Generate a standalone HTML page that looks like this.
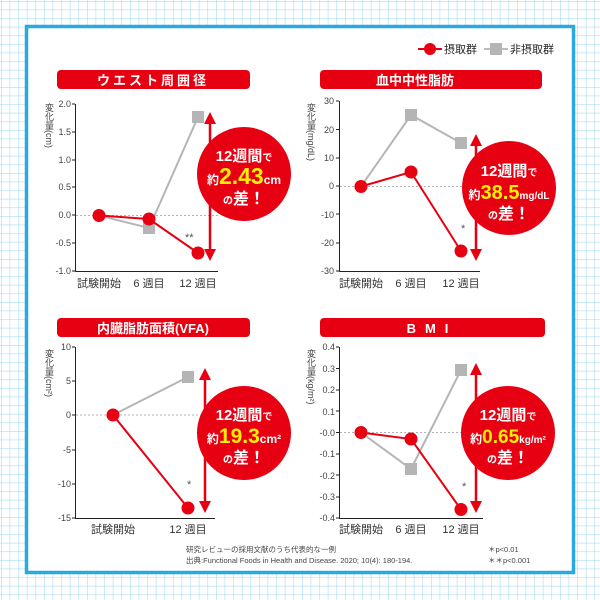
<!DOCTYPE html>
<html><head><meta charset="utf-8"><style>
html,body{margin:0;padding:0;width:600px;height:600px;overflow:hidden;background:#fff}
svg{display:block}
text{font-family:"Liberation Sans","Noto Sans CJK JP",sans-serif}
.v{writing-mode:vertical-rl}
</style></head><body>
<svg width="600" height="600" viewBox="0 0 600 600" xmlns="http://www.w3.org/2000/svg">
<defs>
<pattern id="g" x="1" y="1" width="8.6" height="8.6" patternUnits="userSpaceOnUse">
<path d="M0 0H8.6M0 0V8.6" stroke="#a9dcf3" stroke-width="1.2" fill="none"/>
</pattern>
</defs>
<rect width="600" height="600" fill="#fff"/>
<rect width="600" height="600" fill="url(#g)"/>
<rect x="26.5" y="26.5" width="547" height="546" fill="#fff" stroke="#2aa8e0" stroke-width="3.5"/>

<!-- legend -->
<line x1="418" y1="49" x2="442" y2="49" stroke="#e60012" stroke-width="2"/>
<circle cx="430" cy="49" r="6" fill="#e60012"/>
<text x="444" y="53" font-size="11" fill="#222">摂取群</text>
<line x1="484" y1="49" x2="508" y2="49" stroke="#bbb" stroke-width="2"/>
<rect x="490" y="43" width="12" height="12" fill="#b5b5b5"/>
<text x="510" y="53" font-size="11" fill="#222">非摂取群</text>

<!-- ============ Chart 1 ============ -->
<rect x="57" y="70" width="193" height="19" rx="4" fill="#e60012"/>
<text x="153" y="85" font-size="13" font-weight="bold" fill="#fff" text-anchor="middle" letter-spacing="3">ウエスト周囲径</text>
<text x="49" y="103" font-size="9" fill="#444" class="v">変化量(cm)</text>
<g font-size="9" fill="#444" text-anchor="end">
<text x="71" y="107">2.0</text><text x="71" y="135">1.5</text><text x="71" y="163">1.0</text><text x="71" y="190">0.5</text><text x="71" y="218">0.0</text><text x="71" y="246">-0.5</text><text x="71" y="274">-1.0</text>
</g>
<g stroke="#222" stroke-width="1" fill="none">
<path d="M75.5 104V271.5H218"/>
<path d="M75 104h-3M75 132h-3M75 160h-3M75 187h-3M75 215h-3M75 243h-3M75 271h-3"/>
</g>
<line x1="76" y1="215.5" x2="218" y2="215.5" stroke="#999" stroke-dasharray="2,2" stroke-width="0.8"/>
<polyline points="99,215.5 149,228 198,117" fill="none" stroke="#b5b5b5" stroke-width="2"/>
<rect x="143" y="222" width="12" height="12" fill="#b5b5b5"/><rect x="192" y="111" width="12" height="12" fill="#b5b5b5"/>
<polyline points="99,215.5 149,219 198,253" fill="none" stroke="#e60012" stroke-width="2"/>
<circle cx="99" cy="215.5" r="6.5" fill="#e60012"/><circle cx="149" cy="219" r="6.5" fill="#e60012"/><circle cx="198" cy="253" r="6.5" fill="#e60012"/>
<text x="185" y="241" font-size="11" fill="#555">**</text>
<g font-size="11" fill="#333" text-anchor="middle"><text x="99" y="287">試験開始</text><text x="149" y="287">6 週目</text><text x="198" y="287">12 週目</text></g>
<line x1="210" y1="122" x2="210" y2="251" stroke="#e60012" stroke-width="2.5"/>
<path d="M204 124L210 112L216 124Z M204 249L210 261L216 249Z" fill="#e60012"/>
<circle cx="244" cy="174" r="47" fill="#e60012"/>
<text x="244" y="161" font-size="15" font-weight="bold" fill="#fff" text-anchor="middle">12週間<tspan font-size="10">で</tspan></text>
<text x="244" y="184" font-weight="bold" text-anchor="middle" fill="#fff" font-size="12">約<tspan fill="#fff000" font-size="23">2.43</tspan><tspan font-size="12">cm</tspan></text>
<text x="244" y="204" font-weight="bold" text-anchor="middle" fill="#fff" font-size="10">の<tspan font-size="16">差！</tspan></text>

<!-- ============ Chart 2 ============ -->
<rect x="320" y="70" width="222" height="19" rx="4" fill="#e60012"/>
<text x="376" y="85" font-size="13" font-weight="bold" fill="#fff">血中中性脂肪</text>
<text x="311" y="103" font-size="9" fill="#444" class="v">変化量(mg/dL)</text>
<g font-size="9" fill="#444" text-anchor="end">
<text x="334" y="104">30</text><text x="334" y="133">20</text><text x="334" y="161">10</text><text x="334" y="189">0</text><text x="334" y="218">-10</text><text x="334" y="246">-20</text><text x="334" y="274">-30</text>
</g>
<g stroke="#222" stroke-width="1" fill="none">
<path d="M339.5 101V271.5H480"/>
<path d="M339 101h-3M339 129.5h-3M339 158h-3M339 186h-3M339 214h-3M339 243h-3M339 271h-3"/>
</g>
<line x1="340" y1="186.5" x2="480" y2="186.5" stroke="#999" stroke-dasharray="2,2" stroke-width="0.8"/>
<polyline points="361,186.5 411,115 461,143" fill="none" stroke="#b5b5b5" stroke-width="2"/>
<rect x="405" y="109" width="12" height="12" fill="#b5b5b5"/><rect x="455" y="137" width="12" height="12" fill="#b5b5b5"/>
<polyline points="361,186.5 411,172 461,251" fill="none" stroke="#e60012" stroke-width="2"/>
<circle cx="361" cy="186.5" r="6.5" fill="#e60012"/><circle cx="411" cy="172" r="6.5" fill="#e60012"/><circle cx="461" cy="251" r="6.5" fill="#e60012"/>
<text x="461" y="232" font-size="11" fill="#555">*</text>
<g font-size="11" fill="#333" text-anchor="middle"><text x="361" y="287">試験開始</text><text x="411" y="287">6 週目</text><text x="461" y="287">12 週目</text></g>
<line x1="476" y1="144" x2="476" y2="251" stroke="#e60012" stroke-width="2.5"/>
<path d="M470 146L476 134L482 146Z M470 249L476 261L482 249Z" fill="#e60012"/>
<circle cx="509" cy="188" r="47" fill="#e60012"/>
<text x="509" y="176" font-size="15" font-weight="bold" fill="#fff" text-anchor="middle">12週間<tspan font-size="10">で</tspan></text>
<text x="509" y="199" font-weight="bold" text-anchor="middle" fill="#fff" font-size="12">約<tspan fill="#fff000" font-size="20">38.5</tspan><tspan font-size="10">mg/dL</tspan></text>
<text x="509" y="219" font-weight="bold" text-anchor="middle" fill="#fff" font-size="10">の<tspan font-size="16">差！</tspan></text>

<!-- ============ Chart 3 ============ -->
<rect x="57" y="318" width="193" height="19" rx="4" fill="#e60012"/>
<text x="153" y="333" font-size="13" font-weight="bold" fill="#fff" text-anchor="middle">内臓脂肪面積(VFA)</text>
<text x="49" y="349" font-size="9" fill="#444" class="v">変化量(cm²)</text>
<g font-size="9" fill="#444" text-anchor="end">
<text x="71" y="350">10</text><text x="71" y="384">5</text><text x="71" y="418">0</text><text x="71" y="453">-5</text><text x="71" y="487">-10</text><text x="71" y="521">-15</text>
</g>
<g stroke="#222" stroke-width="1" fill="none">
<path d="M75.5 347V518.5H215"/>
<path d="M75 347h-3M75 381h-3M75 415h-3M75 450h-3M75 484h-3M75 518h-3"/>
</g>
<line x1="76" y1="415" x2="215" y2="415" stroke="#999" stroke-dasharray="2,2" stroke-width="0.8"/>
<polyline points="113,415 188,377" fill="none" stroke="#b5b5b5" stroke-width="2"/>
<rect x="182" y="371" width="12" height="12" fill="#b5b5b5"/>
<polyline points="113,415 188,508" fill="none" stroke="#e60012" stroke-width="2"/>
<circle cx="113" cy="415" r="6.5" fill="#e60012"/><circle cx="188" cy="508" r="6.5" fill="#e60012"/>
<text x="187" y="488" font-size="11" fill="#555">*</text>
<g font-size="11" fill="#333" text-anchor="middle"><text x="113" y="533">試験開始</text><text x="188" y="533">12 週目</text></g>
<line x1="205" y1="378" x2="205" y2="503" stroke="#e60012" stroke-width="2.5"/>
<path d="M199 380L205 368L211 380Z M199 501L205 513L211 501Z" fill="#e60012"/>
<circle cx="244" cy="433" r="47" fill="#e60012"/>
<text x="244" y="420" font-size="15" font-weight="bold" fill="#fff" text-anchor="middle">12週間<tspan font-size="10">で</tspan></text>
<text x="244" y="443" font-weight="bold" text-anchor="middle" fill="#fff" font-size="12">約<tspan fill="#fff000" font-size="21">19.3</tspan><tspan font-size="12">cm²</tspan></text>
<text x="244" y="463" font-weight="bold" text-anchor="middle" fill="#fff" font-size="10">の<tspan font-size="16">差！</tspan></text>

<!-- ============ Chart 4 ============ -->
<rect x="320" y="318" width="225" height="19" rx="4" fill="#e60012"/>
<text x="432" y="333" font-size="13" font-weight="bold" fill="#fff" text-anchor="middle" letter-spacing="9">BMI</text>
<text x="311" y="349" font-size="9" fill="#444" class="v">変化量(kg/m²)</text>
<g font-size="9" fill="#444" text-anchor="end">
<text x="335" y="350">0.4</text><text x="335" y="372">0.3</text><text x="335" y="393">0.2</text><text x="335" y="415">0.1</text><text x="335" y="436">-0.0</text><text x="335" y="457">-0.1</text><text x="335" y="479">-0.2</text><text x="335" y="500">-0.3</text><text x="335" y="521">-0.4</text>
</g>
<g stroke="#222" stroke-width="1" fill="none">
<path d="M339.5 347V518.5H483"/>
<path d="M339 347h-3M339 368.5h-3M339 390h-3M339 411h-3M339 432.5h-3M339 454h-3M339 475h-3M339 497h-3M339 518h-3"/>
</g>
<line x1="340" y1="432.5" x2="483" y2="432.5" stroke="#999" stroke-dasharray="2,2" stroke-width="0.8"/>
<polyline points="361,432.5 411,469 461,370" fill="none" stroke="#b5b5b5" stroke-width="2"/>
<rect x="405" y="463" width="12" height="12" fill="#b5b5b5"/><rect x="455" y="364" width="12" height="12" fill="#b5b5b5"/>
<polyline points="361,432.5 411,439 461,509.5" fill="none" stroke="#e60012" stroke-width="2"/>
<circle cx="361" cy="432.5" r="6.5" fill="#e60012"/><circle cx="411" cy="439" r="6.5" fill="#e60012"/><circle cx="461" cy="509.5" r="6.5" fill="#e60012"/>
<text x="462" y="490" font-size="11" fill="#555">*</text>
<g font-size="11" fill="#333" text-anchor="middle"><text x="361" y="533">試験開始</text><text x="411" y="533">6 週目</text><text x="461" y="533">12 週目</text></g>
<line x1="476" y1="373" x2="476" y2="503" stroke="#e60012" stroke-width="2.5"/>
<path d="M470 375L476 363L482 375Z M470 501L476 513L482 501Z" fill="#e60012"/>
<circle cx="508" cy="433" r="47" fill="#e60012"/>
<text x="508" y="420" font-size="15" font-weight="bold" fill="#fff" text-anchor="middle">12週間<tspan font-size="10">で</tspan></text>
<text x="508" y="443" font-weight="bold" text-anchor="middle" fill="#fff" font-size="12">約<tspan fill="#fff000" font-size="19">0.65</tspan><tspan font-size="10">kg/m²</tspan></text>
<text x="508" y="463" font-weight="bold" text-anchor="middle" fill="#fff" font-size="10">の<tspan font-size="16">差！</tspan></text>

<!-- footnote -->
<text x="186" y="552" font-size="7.5" fill="#444">研究レビューの採用文献のうち代表的な一例</text>
<text x="186" y="563" font-size="7.5" fill="#444">出典:Functional Foods in Health and Disease. 2020; 10(4): 180-194.</text>
<text x="488" y="552" font-size="7.5" fill="#444">＊p&lt;0.01</text>
<text x="488" y="563" font-size="7.5" fill="#444">＊＊p&lt;0.001</text>
</svg>
</body></html>
